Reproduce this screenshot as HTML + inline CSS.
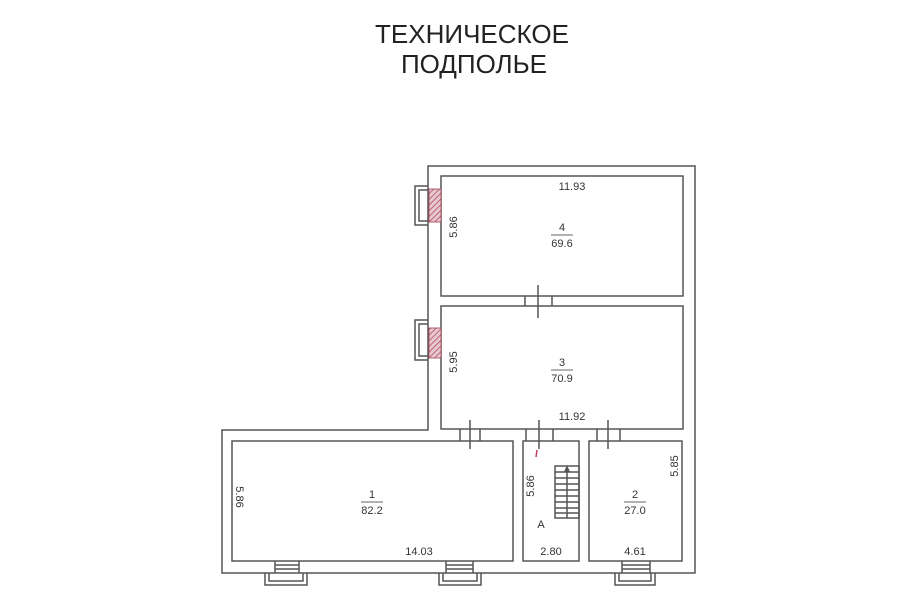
<!DOCTYPE html><html><head><meta charset="utf-8"><style>html,body{margin:0;padding:0;background:#fff}svg{display:block}</style></head><body>
<svg width="900" height="604" viewBox="0 0 900 604" xmlns="http://www.w3.org/2000/svg" font-family="Liberation Sans, sans-serif">
<defs><pattern id="h" width="4" height="4" patternUnits="userSpaceOnUse" patternTransform="rotate(45)"><rect width="4" height="4" fill="#e8c8d0"/><line x1="0" y1="0" x2="0" y2="4" stroke="#b04060" stroke-width="1.5"/></pattern></defs>
<text x="472" y="43" font-size="26" text-anchor="middle" fill="#222">ТЕХНИЧЕСКОЕ</text>
<text x="474" y="73" font-size="26" text-anchor="middle" fill="#222">ПОДПОЛЬЕ</text>
<g fill="none" stroke="#555" stroke-width="1.5">
<path d="M428 430 V166 H695 V573 H222 V430 Z"/>
<rect x="441" y="176" width="242" height="120"/>
<rect x="441" y="306" width="242" height="123"/>
<rect x="232" y="441" width="281" height="120"/>
<rect x="523" y="441" width="56" height="120"/>
<rect x="589" y="441" width="93" height="120"/>
<!-- left windows -->
<path d="M428 186 H415 V225 H428 M428 190 H419 V221 H428"/>
<path d="M428 320 H415 V360 H428 M428 324 H419 V356 H428"/>
<!-- bottom windows -->
<path d="M265 573 V585 H307 V573 M269 573 V581 H303 V573 M275 561 V573 M299 561 V573 M275 565 H299 M275 569 H299"/>
<path d="M439 573 V585 H481 V573 M443 573 V581 H477 V573 M446 561 V573 M473 561 V573 M446 565 H473 M446 569 H473"/>
<path d="M615 573 V585 H655 V573 M619 573 V581 H651 V573 M622 561 V573 M650 561 V573 M622 565 H650 M622 569 H650"/>
<!-- doors -->
<path d="M525 296 V306 M552 296 V306 M538 285 V318"/>
<path d="M460 429 V441 M480 429 V441 M470 420 V449"/>
<path d="M526 429 V441 M553 429 V441 M539 420 V449"/>
<path d="M597 429 V441 M620 429 V441 M608 420 V449"/>
<!-- stair -->
<rect x="555" y="466" width="24" height="52"/>
<path d="M567 470 V518 M555 472 H579 M555 478 H579 M555 484 H579 M555 490 H579 M555 496 H579 M555 502 H579 M555 508 H579 M555 513 H579"/>
</g>
<path d="M567 465 l-3 7 h6 z" fill="#555"/>
<line x1="537" y1="450" x2="536" y2="457" stroke="#c04060" stroke-width="1.5"/>
<rect x="429" y="189" width="12" height="33" fill="url(#h)" stroke="#a04050" stroke-width="0.8"/>
<rect x="429" y="328" width="12" height="30" fill="url(#h)" stroke="#a04050" stroke-width="0.8"/>
<g font-size="11" fill="#333" text-anchor="middle">
<text x="572" y="190">11.93</text>
<text x="572" y="420">11.92</text>
<text x="419" y="555">14.03</text>
<text x="551" y="555">2.80</text>
<text x="635" y="555">4.61</text>
<text x="541" y="528">А</text>
<text x="457" y="227" transform="rotate(-90 457 227)">5.86</text>
<text x="457" y="362" transform="rotate(-90 457 362)">5.95</text>
<text x="534" y="486" transform="rotate(-90 534 486)">5.86</text>
<text x="678" y="466" transform="rotate(-90 678 466)">5.85</text>
<text x="236" y="497" transform="rotate(90 236 497)">5.86</text>
<text x="562" y="231">4</text><text x="562" y="247">69.6</text>
<text x="562" y="366">3</text><text x="562" y="382">70.9</text>
<text x="372" y="498">1</text><text x="372" y="514">82.2</text>
<text x="635" y="498">2</text><text x="635" y="514">27.0</text>
</g>
<g stroke="#333" stroke-width="0.8"><path d="M551 235 H573 M551 370 H573 M361 502 H383 M624 502 H646"/></g>
</svg>
</body></html>
